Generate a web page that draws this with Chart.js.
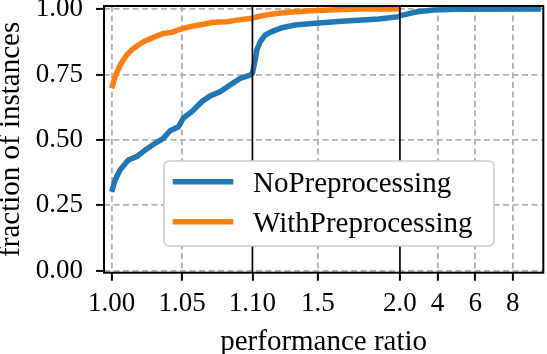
<!DOCTYPE html>
<html>
<head>
<meta charset="utf-8">
<script src="https://cdn.jsdelivr.net/npm/chart.js@4.4.0/dist/chart.umd.min.js"></script>
<style>
html, body { margin: 0; padding: 0; background: #fff; }
canvas { display: block; }
</style>
</head>
<body>
<canvas id="chart" width="547" height="354"></canvas>
<script>
// performance profile, x axis is split in three linear pieces
const noPrepRatio = [1.000, 1.0024, 1.0059, 1.0118, 1.0178, 1.0237, 1.0308, 1.0367, 1.0415, 1.0474,
  1.0509, 1.0569, 1.064, 1.0699, 1.077, 1.0841, 1.0912, 1.0984, 1.100, 1.1165,
  1.127, 1.147, 1.178, 1.219, 1.28, 1.361, 1.464, 1.565, 1.667, 1.77,
  1.871, 1.993, 2.0, 2.91, 3.8, 5.04, 9.5];
const noPrepFrac = [0.302, 0.347, 0.385, 0.423, 0.436, 0.461, 0.487, 0.506, 0.535, 0.550,
  0.583, 0.608, 0.646, 0.668, 0.684, 0.710, 0.735, 0.748, 0.755, 0.805,
  0.844, 0.875, 0.901, 0.914, 0.929, 0.939, 0.945, 0.950, 0.955, 0.958,
  0.962, 0.971, 0.975, 0.990, 0.997, 0.999, 1.0];
const withPrepRatio = [1.000, 1.0024, 1.006, 1.0107, 1.0154, 1.0225, 1.0296, 1.0367, 1.0427, 1.0486,
  1.0557, 1.0652, 1.0723, 1.0818, 1.0889, 1.0996, 1.12, 1.178, 1.259, 1.361,
  1.464, 1.565, 1.75, 2.0];
const withPrepFrac = [0.697, 0.742, 0.786, 0.825, 0.850, 0.875, 0.892, 0.907, 0.911, 0.923,
  0.933, 0.942, 0.950, 0.952, 0.958, 0.965, 0.969, 0.977, 0.984, 0.990,
  0.994, 0.997, 1.0, 1.0];

const xTickRatios = [1.00, 1.05, 1.10, 1.5, 2.0, 4, 6, 8];
const xTickLabels = ['1.00', '1.05', '1.10', '1.5', '2.0', '4', '6', '8'];
const yTicks = [0, 0.25, 0.5, 0.75, 1.0];
const yTickLabels = ['0.00', '0.25', '0.50', '0.75', '1.00'];

const segBreaks = [1.0, 1.1, 2.0, 10];    // ends of the axis pieces
const segWidths = [140.6, 147.4, 150.4];  // width given to each piece
const xRange = [0.99452, 9.62];
const yRange = [-0.0076, 1.0119];

const FONT = '"Liberation Serif", "Times New Roman", serif';

// ratio -> position on the broken axis
function warp(r) {
  let u = 0;
  for (let i = 0; i < segWidths.length; i++) {
    const a = segBreaks[i], b = segBreaks[i + 1];
    if (r <= b || i === segWidths.length - 1) {
      return u + (r - a) / (b - a) * segWidths[i];
    }
    u += segWidths[i];
  }
}

const breakPos = segBreaks.slice(1, -1).map(warp);
const isBreak = v => breakPos.some(b => Math.abs(b - v) < 1e-6);

function roundRect(ctx, x, y, w, h, r) {
  ctx.beginPath();
  ctx.moveTo(x + r, y);
  ctx.arcTo(x + w, y, x + w, y + h, r);
  ctx.arcTo(x + w, y + h, x, y + h, r);
  ctx.arcTo(x, y + h, x, y, r);
  ctx.arcTo(x, y, x + w, y, r);
  ctx.closePath();
}

const decor = {
  id: 'decor',
  afterDatasetsDraw(chart) {
    const { ctx, chartArea: a, scales: { x } } = chart;
    ctx.save();
    ctx.strokeStyle = '#000';
    ctx.lineWidth = 1.7;
    // solid lines where the axis pieces meet
    breakPos.forEach(v => {
      const px = x.getPixelForValue(v);
      ctx.beginPath();
      ctx.moveTo(px, a.top);
      ctx.lineTo(px, a.bottom);
      ctx.stroke();
    });
    ctx.lineWidth = 2;
    ctx.strokeRect(a.left, a.top, a.right - a.left, a.bottom - a.top);
    ctx.restore();
  },
  afterDraw(chart) {
    const ctx = chart.ctx;
    ctx.save();
    roundRect(ctx, 164, 161, 330, 85, 5);
    ctx.fillStyle = '#fff';
    ctx.fill();
    ctx.strokeStyle = '#cccccc';
    ctx.lineWidth = 1.6;
    ctx.stroke();
    ctx.font = '29px ' + FONT;
    ctx.textBaseline = 'alphabetic';
    chart.data.datasets.forEach((ds, i) => {
      const y = 181.7 + i * 40;
      ctx.strokeStyle = ds.borderColor;
      ctx.lineWidth = 5.5;
      ctx.beginPath();
      ctx.moveTo(172.7, y);
      ctx.lineTo(233.3, y);
      ctx.stroke();
      ctx.fillStyle = '#000';
      ctx.fillText(ds.label, 253, y + 10);
    });
    ctx.restore();
  }
};

new Chart(document.getElementById('chart'), {
  type: 'line',
  data: {
    datasets: [
      {
        label: 'NoPreprocessing',
        data: noPrepRatio.map((r, i) => ({ x: warp(r), y: noPrepFrac[i] })),
        borderColor: '#1f77b4',
        borderWidth: 5.5,
        pointRadius: 0,
        tension: 0,
        fill: false,
        order: 1
      },
      {
        label: 'WithPreprocessing',
        data: withPrepRatio.map((r, i) => ({ x: warp(r), y: withPrepFrac[i] })),
        borderColor: '#ff7f0e',
        borderWidth: 5.5,
        pointRadius: 0,
        tension: 0,
        fill: false,
        order: 0
      }
    ]
  },
  options: {
    responsive: false,
    animation: false,
    devicePixelRatio: 1,
    layout: { padding: { top: 6, right: 3.7, left: 0, bottom: 0 } },
    plugins: { legend: { display: false }, tooltip: { enabled: false } },
    scales: {
      x: {
        type: 'linear',
        min: warp(xRange[0]),
        max: warp(xRange[1]),
        afterBuildTicks: s => { s.ticks = xTickRatios.map(r => ({ value: warp(r) })); },
        afterFit: s => { s.height = 81.3; s.paddingLeft = 0; s.paddingRight = 0; },
        ticks: {
          autoSkip: false, maxRotation: 0, minRotation: 0, padding: 7,
          color: '#000', font: { family: FONT, size: 27 },
          callback: (v, i) => xTickLabels[i]
        },
        grid: {
          color: c => (c.tick && isBreak(c.tick.value)) ? 'rgba(0,0,0,0)' : '#b0b0b0',
          lineWidth: 1.8, tickLength: 8, tickColor: '#000', tickWidth: 2
        },
        border: { display: false, dash: [6, 3.5] },
        title: {
          display: true, text: 'performance ratio', color: '#000',
          font: { family: FONT, size: 29, lineHeight: 1 },
          padding: { top: 0, bottom: -2.5 }
        }
      },
      y: {
        min: yRange[0],
        max: yRange[1],
        afterBuildTicks: s => { s.ticks = yTicks.map(v => ({ value: v })); },
        afterFit: s => { s.width = 104; s.paddingTop = 0; s.paddingBottom = 0; },
        ticks: {
          padding: 13, color: '#000', font: { family: FONT, size: 27 },
          callback: (v, i) => yTickLabels[i]
        },
        grid: { color: '#b0b0b0', lineWidth: 1.8, tickLength: 8, tickColor: '#000', tickWidth: 2 },
        border: { display: false, dash: [6, 3.5] },
        title: {
          display: true, text: 'fraction of instances', color: '#000',
          font: { family: FONT, size: 29, lineHeight: 1 },
          padding: { top: -3.5, bottom: 0 }
        }
      }
    }
  },
  plugins: [decor]
});
</script>
</body>
</html>
